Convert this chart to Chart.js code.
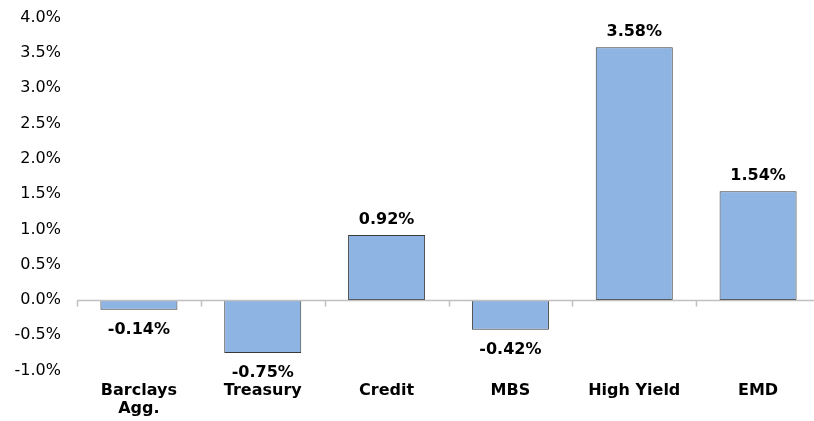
<!DOCTYPE html>
<html>
<head>
<meta charset="utf-8">
<script src="https://cdn.jsdelivr.net/npm/chart.js@4/dist/chart.umd.min.js"></script>
<style>
html,body{margin:0;padding:0;background:#fff;overflow:hidden;width:814px;height:421px;}
canvas{display:block;}
</style>
</head>
<body>
<canvas id="c" width="820" height="421"></canvas>
<script>
const categories = [["Barclays","Agg."], "Treasury", "Credit", "MBS", "High Yield", "EMD"];
const values = [-0.14, -0.75, 0.92, -0.42, 3.58, 1.54];
const yMin = -1.0, yMax = 4.0, yStep = 0.5;

const FONT = "'DejaVu Sans', Verdana, sans-serif";

const overlay = {
  id: 'overlay',
  afterDatasetsDraw(chart) {
    const ctx = chart.ctx;
    const x = chart.scales.x, y = chart.scales.y;
    const y0 = Math.round(y.getPixelForValue(0)) + 0.5;
    ctx.save();
    ctx.strokeStyle = '#c0c0c0';
    ctx.lineWidth = 1.5;
    ctx.beginPath();
    ctx.moveTo(x.left, y0);
    ctx.lineTo(chart.width, y0);
    const n = categories.length;
    const w = (x.right - x.left) / n;
    for (let i = 0; i <= n; i++) {
      const px = Math.round(x.left + i * w) + 0.5;
      ctx.moveTo(px, y0);
      ctx.lineTo(px, y0 + 6);
    }
    ctx.stroke();
    // data labels
    ctx.fillStyle = '#000';
    ctx.font = "bold 16px " + FONT;
    ctx.textAlign = 'center';
    ctx.textBaseline = 'alphabetic';
    chart.getDatasetMeta(0).data.forEach((bar, i) => {
      const v = values[i];
      const txt = v.toFixed(2) + '%';
      if (v >= 0) ctx.fillText(txt, bar.x, bar.y - 11);
      else ctx.fillText(txt, bar.x, bar.y + 24.5);
    });
    ctx.restore();
  }
};

new Chart(document.getElementById('c'), {
  type: 'bar',
  data: {
    labels: categories,
    datasets: [{
      data: values,
      backgroundColor: '#8eb4e3',
      borderColor: '#3a3a3a',
      borderWidth: 1,
      borderSkipped: false,
      categoryPercentage: 1,
      barPercentage: 0.622
    }]
  },
  options: {
    responsive: false,
    animation: false,
    devicePixelRatio: 1,
    layout: { padding: { top: 17.5, right: 0, bottom: 0, left: 0 } },
    plugins: { legend: { display: false }, tooltip: { enabled: false } },
    scales: {
      x: {
        grid: { display: false, drawTicks: false },
        border: { display: false },
        ticks: {
          padding: 11,
          color: '#000',
          maxRotation: 0,
          autoSkip: false,
          font: { family: FONT, size: 16, weight: 'bold', lineHeight: 1.15 }
        },
        afterFit(scale) { scale.height = 50.4; scale.paddingLeft = 0; scale.paddingRight = 0; }
      },
      y: {
        min: yMin, max: yMax,
        grid: { display: false, drawTicks: false },
        border: { display: false },
        ticks: {
          stepSize: yStep,
          padding: 16,
          color: '#000',
          font: { family: FONT, size: 16 },
          callback: v => v.toFixed(1) + '%'
        },
        afterFit(scale) { scale.width = 77; scale.paddingTop = 0; scale.paddingBottom = 0; }
      }
    }
  },
  plugins: [overlay]
});
</script>
</body>
</html>
